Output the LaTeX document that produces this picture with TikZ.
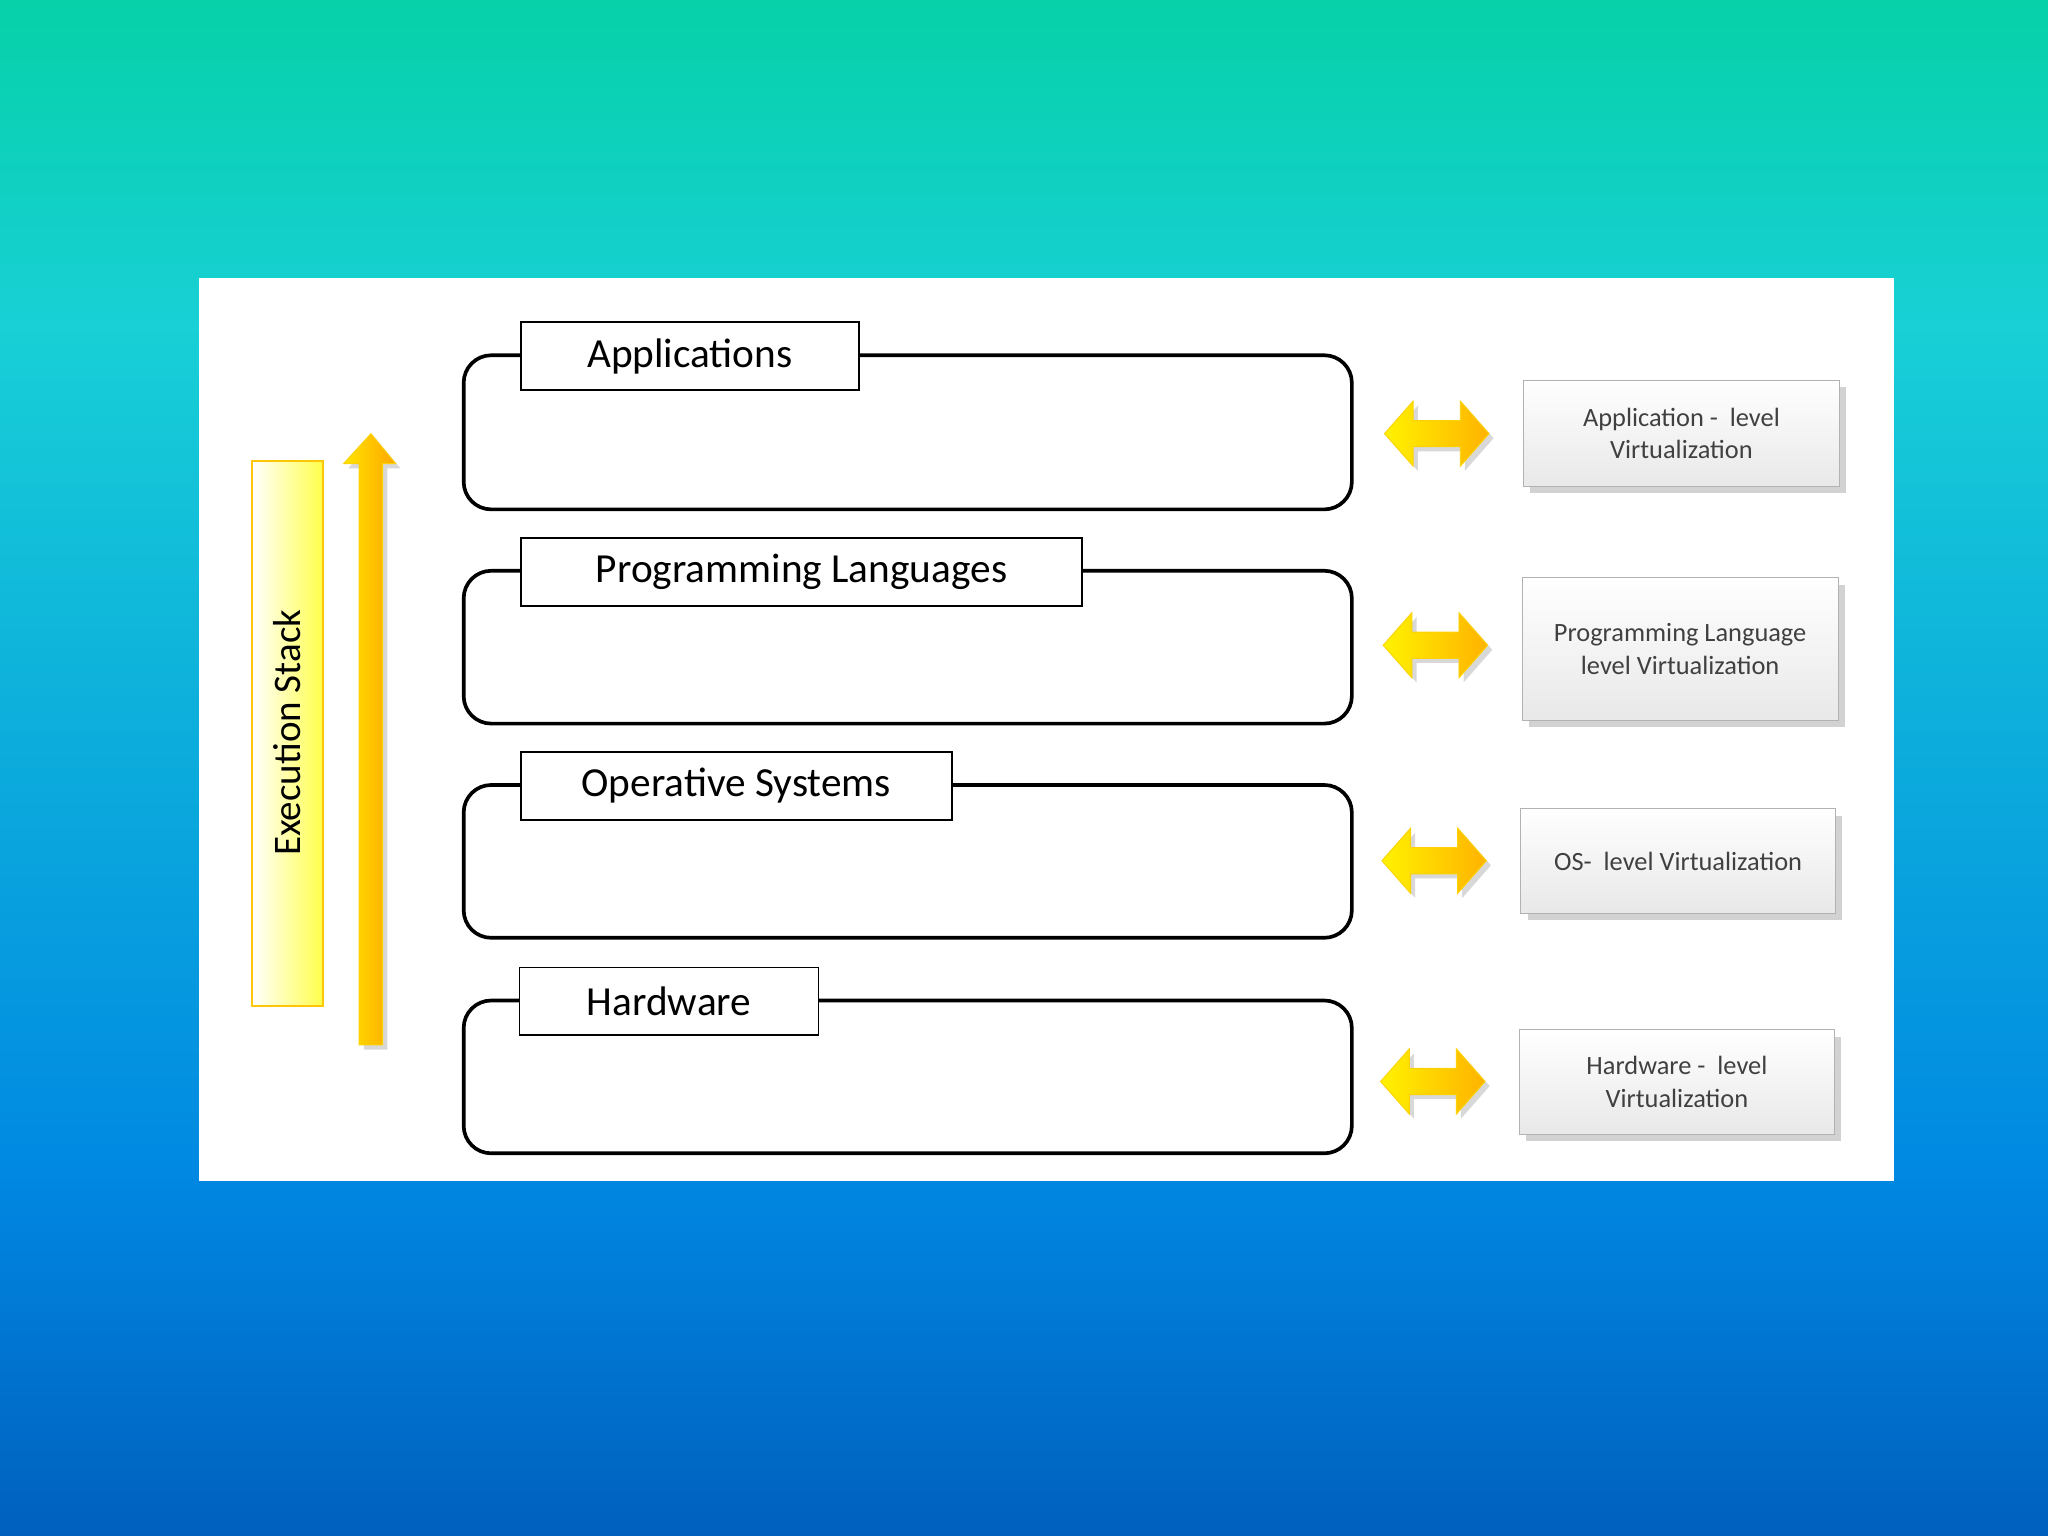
\documentclass[tikz,border=0pt]{standalone}
\usepackage{fontspec}
\setmainfont{Carlito}
\usetikzlibrary{shadows}
\begin{document}
\begin{tikzpicture}[x=0.02cm,y=-0.02cm,
 tab/.style={draw=black,thick,fill=white,anchor=north west,inner sep=0,font=\fontsize{18}{20}\selectfont},
 layer/.style={draw=black,line width=1.6pt,rounded corners=12},
 vbox/.style={draw=gray!60,fill=white,top color=white,bottom color=gray!18,drop shadow={opacity=0.35,shadow xshift=3pt,shadow yshift=-3pt},align=center,text=black!75,font=\fontsize{11.5}{14}\selectfont,anchor=north west,inner sep=0},
 garrow/.style={draw=yellow!70!orange,left color=yellow!90!orange,right color=orange!60!yellow,drop shadow={opacity=0.3,shadow xshift=2pt,shadow yshift=-2pt}}]
\useasboundingbox (0,0) rectangle (1568,1176);
\fill[top color={rgb,255:red,6;green,209;blue,168},bottom color={rgb,255:red,24;green,208;blue,214}] (0,0) rectangle (1568,250);
\fill[top color={rgb,255:red,24;green,208;blue,214},bottom color={rgb,255:red,0;green,136;blue,226}] (0,249) rectangle (1568,900);
\fill[top color={rgb,255:red,0;green,136;blue,226},bottom color={rgb,255:red,0;green,96;blue,190}] (0,899) rectangle (1568,1176);
\fill[white] (152,213) rectangle (1450,904);
% layers
\foreach \n/\t/\b in {a/272/390,p/437/554,o/601/718,h/766/883}{
  \draw[layer] (355,\t) rectangle (1035,\b) coordinate (L\n);}
\node[tab,minimum width=259\pgflinewidth*0+259*0.02cm,minimum height=52*0.02cm] (ta) at (398,246) {Applications};
\node[tab,minimum width=430*0.02cm,minimum height=52*0.02cm] (tp) at (398,411) {Programming Languages};
\node[tab,minimum width=330*0.02cm,minimum height=52*0.02cm] (to) at (398,575) {Operative Systems};
\node[tab,minimum width=229*0.02cm,minimum height=52*0.02cm] (th) at (397,740) {Hardware};
% double arrows
\foreach \cx/\cy in {1100/332,1099/494,1098/659,1097/828}{
 \path[garrow] (\cx-40,\cy) -- (\cx-18,\cy-25) -- (\cx-18,\cy-10) -- (\cx+18,\cy-10) -- (\cx+18,\cy-25) -- (\cx+40,\cy) -- (\cx+18,\cy+25) -- (\cx+18,\cy+10) -- (\cx-18,\cy+10) -- (\cx-18,\cy+25) -- cycle;}
% right boxes
\node[vbox,minimum width=242*0.02cm,minimum height=81*0.02cm] (v1) at (1166,291) {Application -\ \ level\\Virtualization};
\node[vbox,minimum width=242*0.02cm,minimum height=109*0.02cm] (v2) at (1165,442) {Programming Language\\level Virtualization};
\node[vbox,minimum width=241*0.02cm,minimum height=80*0.02cm] (v3) at (1164,619) {OS-\ \ level Virtualization};
\node[vbox,minimum width=241*0.02cm,minimum height=80*0.02cm] (v4) at (1163,788) {Hardware -\ \ level\\Virtualization};
% execution stack
\draw[draw=yellow!60!orange,thick,left color=white,right color=yellow!70] (193,353) rectangle (247,770);
\node[rotate=90,font=\fontsize{17}{20}\selectfont] (es) at (220,561) {Execution Stack};
\path[garrow,left color=yellow!80!orange,right color=orange!70!yellow] (275,800) -- (275,355) -- (263,355) -- (284,332) -- (303,355) -- (293,355) -- (293,800) -- cycle;
\end{tikzpicture}
\end{document}
